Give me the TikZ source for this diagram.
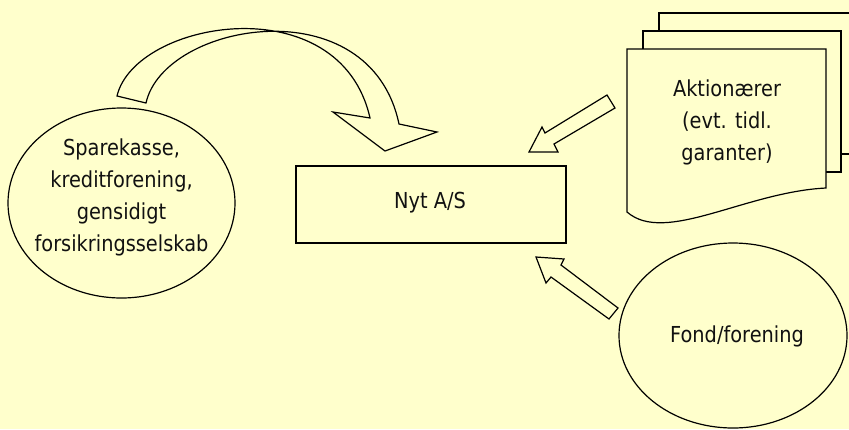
\documentclass[tikz,border=0pt]{standalone}
\usepackage{fontspec}
\setmainfont{DejaVu Sans}[FakeStretch=0.88]
\usetikzlibrary{shapes.geometric}
\definecolor{paper}{HTML}{FFFFCC}
\definecolor{ink}{HTML}{111111}
\tikzset{
  outline/.style={draw=black, line width=0.9pt, fill=paper, line join=miter},
  label/.style={text=ink, align=center, inner sep=0pt,
    font=\fontsize{16.5}{23.8}\selectfont},
  oval/.style={outline, ellipse, inner sep=0pt},
}
\begin{document}
\begin{tikzpicture}[x=0.75pt, y=-0.75pt]
  % canvas
  \fill[paper] (0,0) rectangle (849,429);
  \useasboundingbox (0,0) rectangle (849,429);

  % left institution
  \node[oval, minimum width=0.75pt*227, minimum height=0.75pt*190] (spare) at (121.5,203) {};
  \node[label] (sparetext) at (121.5,197.5)
    {Sparekasse,\\kreditforening,\\gensidigt\\forsikringsselskab};

  % new company
  \node[outline, rectangle, minimum width=0.75pt*270, minimum height=0.75pt*77] (nyt) at (431,204.5) {};
  \node[label] (nyttext) at (430,203) {Nyt A/S};

  % foundation
  \node[oval, minimum width=0.75pt*228, minimum height=0.75pt*185] (fond) at (733,335.5) {};
  \node[label] (fondtext) at (737,336) {Fond/forening};

  % stacked documents: back, middle, front
  \draw[outline] (659,31) -- (659,13) -- (860,13) -- (860,154) -- (841,154);
  \draw[outline] (643,49) -- (643,31) -- (841,31) -- (841,172) -- (826,172);
  \draw[outline] (627,49) -- (826,49) -- (826,188)
    .. controls (745,192) and (665,245) .. (627,212) -- cycle;
  \node[label] (aktionaer) at (727,122.5) {Aktionærer\\(evt. tidl.\\garanter)};

  % curved transfer arrow over the top
  \draw[outline, fill=paper]
    (146,103) -- (117,96)
    .. controls (135,20) and (340,-15) .. (370,118)
    -- (333,112) -- (385,151) -- (437,132) -- (399,124)
    .. controls (370,-14) and (164,22) .. (146,103) -- cycle;

  % block arrow from the shareholders
  \draw[outline]
    (607,95) -- (545,133) -- (542,127) -- (529,152) -- (558,152)
    -- (554,144) -- (615,108) -- cycle;

  % block arrow from the foundation
  \draw[outline]
    (536,257) -- (564,259) -- (561,265) -- (618,308) -- (609,319)
    -- (551,277) -- (546,283) -- cycle;
\end{tikzpicture}
\end{document}
